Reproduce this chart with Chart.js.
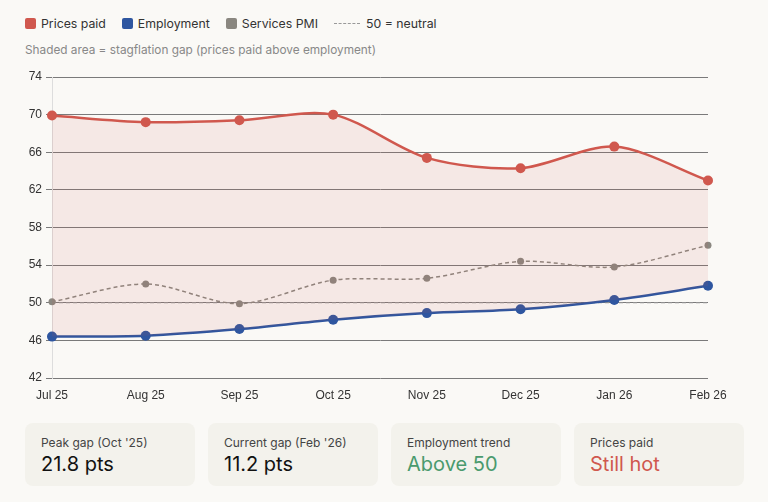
<!DOCTYPE html>
<html>
<head>
<meta charset="utf-8">
<script src="https://cdn.jsdelivr.net/npm/chart.js@4"></script>
<style>
  body { margin: 0; background: #faf9f6; font-family: Inter, "Noto Sans", sans-serif; width: 768px; height: 502px; position: relative; overflow: hidden; }
  .legend { position: absolute; left: 25px; top: 16px; display: flex; align-items: center; font-size: 12.3px; color: #333; }
  .legend span.item { display: flex; align-items: center; margin-right: 16px; }
  .legend i { display: inline-block; width: 11px; height: 11px; border-radius: 2px; margin-right: 5px; }
  .legend i.dash { width: 26px; height: 0; border-top: 1px dashed #999; border-radius: 0; margin-right: 6px; }
  .sub { position: absolute; left: 25px; top: 43px; font-size: 11.8px; color: #888; }
  #wrap { position: absolute; left: 0; top: 62px; width: 768px; height: 346px; }
  .cards { position: absolute; left: 25px; top: 423px; display: flex; gap: 13px; }
  .card { width: 170px; height: 63px; background: #f3f2ec; border-radius: 8px; box-sizing: border-box; padding: 12px 16px; }
  .card .lab { font-size: 12px; color: #444; }
  .card .val { font-size: 20px; color: #111; margin-top: 2px; }
</style>
</head>
<body>
<div class="legend">
  <span class="item"><i style="background:#d0584e"></i>Prices paid</span>
  <span class="item"><i style="background:#2e56a0"></i>Employment</span>
  <span class="item"><i style="background:#8a8780"></i>Services PMI</span>
  <span class="item"><i class="dash"></i>50 = neutral</span>
</div>
<div class="sub">Shaded area = stagflation gap (prices paid above employment)</div>
<div id="wrap"><canvas id="chart"></canvas></div>
<div class="cards">
  <div class="card"><div class="lab">Peak gap (Oct '25)</div><div class="val">21.8 pts</div></div>
  <div class="card"><div class="lab">Current gap (Feb '26)</div><div class="val">11.2 pts</div></div>
  <div class="card"><div class="lab">Employment trend</div><div class="val" style="color:#4a9a6e">Above 50</div></div>
  <div class="card"><div class="lab">Prices paid</div><div class="val" style="color:#d0584e">Still hot</div></div>
</div>
<script>
const months = ['Jul 25', 'Aug 25', 'Sep 25', 'Oct 25', 'Nov 25', 'Dec 25', 'Jan 26', 'Feb 26'];
const pricesPaid = [69.9, 69.2, 69.4, 70.0, 65.4, 64.3, 66.6, 63.0];
const employment = [46.4, 46.5, 47.2, 48.2, 48.9, 49.3, 50.3, 51.8];
const servicesPmi = [50.1, 52.0, 49.9, 52.4, 52.6, 54.4, 53.8, 56.1];
const neutral = months.map(() => 50);
const yTicks = [42, 46, 50, 54, 58, 62, 66, 70, 74];

const ctx = document.getElementById('chart').getContext('2d');
new Chart(ctx, {
  type: 'line',
  data: {
    labels: months,
    datasets: [
      {
        label: 'Prices paid',
        data: pricesPaid,
        borderColor: '#d0584e',
        backgroundColor: 'rgba(208,88,78,0.1)',
        pointBackgroundColor: '#d0584e',
        pointBorderWidth: 0,
        pointRadius: 5,
        borderWidth: 2.5,
        tension: 0.3,
        fill: '+1'
      },
      {
        label: 'Employment',
        data: employment,
        borderColor: '#2e56a0',
        pointBackgroundColor: '#2e56a0',
        pointBorderWidth: 0,
        pointRadius: 5,
        borderWidth: 2.5,
        tension: 0.3,
        fill: false
      },
      {
        label: 'Services PMI',
        data: servicesPmi,
        borderColor: '#8a8780',
        pointBackgroundColor: '#8a8780',
        pointBorderWidth: 0,
        pointRadius: 3.5,
        borderWidth: 1.5,
        borderDash: [4, 3],
        tension: 0.3,
        fill: false
      },
      {
        label: '50 = neutral',
        data: neutral,
        borderColor: '#999',
        borderWidth: 1,
        borderDash: [4, 3],
        pointRadius: 0,
        fill: false
      }
    ]
  },
  options: {
    responsive: true,
    maintainAspectRatio: false,
    animation: false,
    layout: { padding: { top: 15, right: 60, left: 0, bottom: 0 } },
    plugins: { legend: { display: false }, tooltip: { enabled: false } },
    scales: {
      x: {
        grid: { display: false, drawTicks: false },
        border: { display: false },
        ticks: { color: '#333', font: { family: 'Liberation Sans', size: 12 }, padding: 10, maxRotation: 0 },
        afterFit: s => { s.height = 30; }
      },
      y: {
        min: 42,
        max: 74,
        afterBuildTicks: s => { s.ticks = yTicks.map(v => ({ value: v })); },
        grid: { color: '#7a7a7a', lineWidth: 1, tickLength: 6 },
        border: { color: '#dddddd' },
        ticks: { color: '#333', font: { family: 'Liberation Sans', size: 12 }, padding: 4 },
        afterFit: s => { s.width = 52; }
      }
    }
  }
});
</script>
</body>
</html>
